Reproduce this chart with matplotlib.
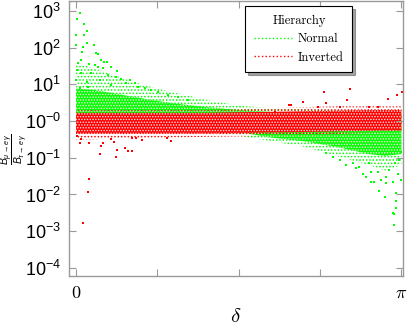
import matplotlib
matplotlib.use("Agg")
import matplotlib.pyplot as plt
from matplotlib.lines import Line2D
import numpy as np

# delta in units of pi, values as log10(B_mu->e gamma / B_tau->e gamma)
d_env = [0.0, 0.05, 0.1, 0.15, 0.2, 0.3, 0.4, 0.5, 0.6, 0.7, 0.8, 0.9, 0.95, 1.0]

# Normal hierarchy: dense core and looser halo
nh_out_hi = [1.6, 1.45, 1.3, 1.15, 1.0, 0.78, 0.58, 0.42, 0.35, 0.32, 0.3, 0.3, 0.3, 0.3]
nh_out_lo = [-0.15, -0.15, -0.2, -0.2, -0.2, -0.25, -0.3, -0.4, -0.55, -0.7, -0.95, -1.2, -1.35, -1.2]
nh_in_hi = [0.88, 0.85, 0.78, 0.7, 0.62, 0.48, 0.38, 0.3, 0.25, 0.22, 0.22, 0.22, 0.22, 0.22]
nh_in_lo = [0.0, 0.0, 0.0, -0.05, -0.1, -0.15, -0.2, -0.3, -0.45, -0.55, -0.7, -0.9, -0.95, -0.9]

# Inverted hierarchy
ih_out_hi = [0.3, 0.3, 0.3, 0.3, 0.3, 0.3, 0.3, 0.32, 0.35, 0.38, 0.4, 0.4, 0.4, 0.4]
ih_out_lo = [-0.5, -0.5, -0.48, -0.47, -0.46, -0.45, -0.43, -0.42, -0.4, -0.38, -0.35, -0.32, -0.3, -0.3]
ih_in_hi = [0.22, 0.22, 0.22, 0.22, 0.22, 0.22, 0.22, 0.24, 0.25, 0.27, 0.28, 0.3, 0.3, 0.3]
ih_in_lo = [-0.35, -0.35, -0.35, -0.35, -0.35, -0.35, -0.34, -0.33, -0.31, -0.3, -0.28, -0.26, -0.25, -0.25]

# sparse points
nh_sp_d = [0.012, 0.002, 0.024, 0.034, 0.0, 0.025, 0.0, 0.034, 0.054, 0.022, 0.019, 0.062,
           0.067, 0.014, 0.006, 0.078, 0.086, 0.096, 0.039, 0.057, 0.067, 0.083, 0.108, 0.127,
           0.004, 0.016, 0.047, 0.098, 0.124, 0.139, 0.165, 0.001, 0.032, 0.073, 0.154, 0.18,
           0.19, 0.211, 0.231, 0.252, 0.282, 0.313, 0.344, 0.011, 0.108, 0.037,
           0.851, 0.871, 0.902, 0.892, 0.907, 0.917, 0.927, 0.938, 0.953, 0.963, 0.973, 0.979,
           0.989, 0.999, 0.953, 0.930, 0.951, 0.984, 0.982, 0.984, 0.973, 0.978, 0.976, 0.907,
           0.881, 0.861, 0.830, 0.994, 0.999, 0.81, 0.789, 0.769]
nh_sp_l = [2.95, 2.77, 2.63, 2.46, 2.33, 2.33, 2.07, 2.12, 2.07, 2.02, 1.89, 1.84,
           1.82, 1.66, 1.59, 1.66, 1.62, 1.60, 1.55, 1.53, 1.48, 1.44, 1.48, 1.37,
           1.39, 1.32, 1.30, 1.25, 1.19, 1.14, 1.12, 1.12, 1.07, 1.12, 1.03, 1.04,
           0.93, 0.89, 0.84, 0.80, 0.71, 0.66, 0.57, 0.89, 0.98, 0.93,
           -1.15, -1.24, -1.15, -1.52, -1.65, -1.65, -1.38, -1.61, -1.52, -1.34, -1.65, -1.15,
           -1.43, -1.61, -1.70, -1.91, -2.08, -1.95, -2.17, -2.38, -2.50, -2.53, -2.82, -1.38,
           -1.43, -1.29, -1.20, -1.06, -0.84, -1.06, -0.97, -0.88]

ih_sp_d = [0.012, 0.016, 0.039, 0.076, 0.084, 0.074, 0.108, 0.117, 0.127, 0.123, 0.151, 0.160,
           0.172, 0.172, 0.185, 0.202, 0.039, 0.037, 0.022, 0.292, 0.278, 0.002,
           0.762, 0.843, 0.833, 0.697, 0.66, 0.769, 0.958, 0.986, 1.002, 0.902, 0.927, 0.743,
           0.81, 0.656, 0.697, 0.613]
ih_sp_l = [-0.61, -0.50, -0.61, -0.67, -0.61, -0.90, -0.50, -0.57, -0.79, -0.98, -0.74, -0.82,
           -0.81, -0.45, -0.47, -0.52, -1.57, -1.93, -2.78, -0.55, -0.45, -0.41,
           0.80, 0.86, 0.57, 0.53, 0.44, 0.48, 0.59, 0.71, 0.80, 0.39, 0.39, 0.37,
           0.39, 0.45, 0.51, 0.24]

green = "#00ff00"
red = "#ff0000"

plt.rcParams["hatch.linewidth"] = 0.7
plt.rcParams["mathtext.fontset"] = "custom"
plt.rcParams["mathtext.rm"] = "Liberation Sans"
plt.rcParams["mathtext.it"] = "Liberation Sans:italic"

fig = plt.figure(figsize=(4.09, 3.27), dpi=100)
ax = fig.add_axes([0.169, 0.156, 0.816, 0.841])

x = np.array(d_env) * np.pi


def cloud(out_lo, out_hi, in_lo, in_hi, sp_d, sp_l, col):
    ax.fill_between(x, 10 ** np.array(out_lo), 10 ** np.array(out_hi),
                    facecolor="none", edgecolor=col, hatch=".....", linewidth=0)
    ax.fill_between(x, 10 ** np.array(in_lo), 10 ** np.array(in_hi),
                    facecolor=col, edgecolor="#ffe8e8", hatch="......", linewidth=0)
    ax.scatter(np.array(sp_d) * np.pi, 10 ** np.array(sp_l), s=2.5, marker="s",
               color=col, linewidths=0)


cloud(nh_out_lo, nh_out_hi, nh_in_lo, nh_in_hi, nh_sp_d, nh_sp_l, green)
cloud(ih_out_lo, ih_out_hi, ih_in_lo, ih_in_hi, ih_sp_d, ih_sp_l, red)

ax.set_yscale("log")
ax.set_ylim(10 ** -4.22, 10 ** 3.27)
ax.set_xlim(-0.0675, 1.0046 * np.pi)

yt = [3, 2, 1, 0, -1, -2, -3, -4]
ax.set_yticks([10.0 ** k for k in yt])
ax.set_yticklabels(["$10^{%d}$" % k if k > 0 else "$10^{-%d}$" % abs(k) for k in yt])
ax.yaxis.set_minor_locator(matplotlib.ticker.NullLocator())
for t in ax.get_yticklabels():
    t.set_fontsize(13)

ax.set_xticks(np.pi * np.array([0, 0.25, 0.5, 0.75, 1.0]))
ax.set_xticklabels(["$0$", "", "", "", r"$\pi$"])
for t in ax.get_xticklabels():
    t.set_math_fontfamily("cm")
    t.set_fontsize(13)

ax.tick_params(direction="in", length=5, color="#999999", top=True, right=True, pad=6)
for s in ax.spines.values():
    s.set_color("#999999")
    s.set_linewidth(1.0)

xl = ax.set_xlabel(r"$\delta$", fontsize=15, labelpad=3)
xl.set_math_fontfamily("cm")
ax.set_ylabel(r"$\dfrac{B_{\mu\rightarrow e\,\gamma}}{B_{\tau\rightarrow e\,\gamma}}$",
              fontsize=7.5)
ax.yaxis.set_label_coords(-0.12, 0.46)

handles = [Line2D([], [], color=green, linestyle=":", lw=1.0),
           Line2D([], [], color=red, linestyle=":", lw=1.0)]
leg = ax.legend(handles, ["Normal", "Inverted"], title="Hierarchy",
                loc="upper right", bbox_to_anchor=(0.849, 0.982), borderaxespad=0,
                prop={"family": "cmr10", "size": 9}, handlelength=3.0,
                fancybox=False, shadow=True, framealpha=1, edgecolor="black",
                borderpad=0.7, labelspacing=0.5, handletextpad=0.5)
leg.get_title().set_fontfamily("cmr10")
leg.get_title().set_fontsize(9)
leg.get_frame().set_linewidth(0.8)

fig.savefig("out.png", dpi=100)
